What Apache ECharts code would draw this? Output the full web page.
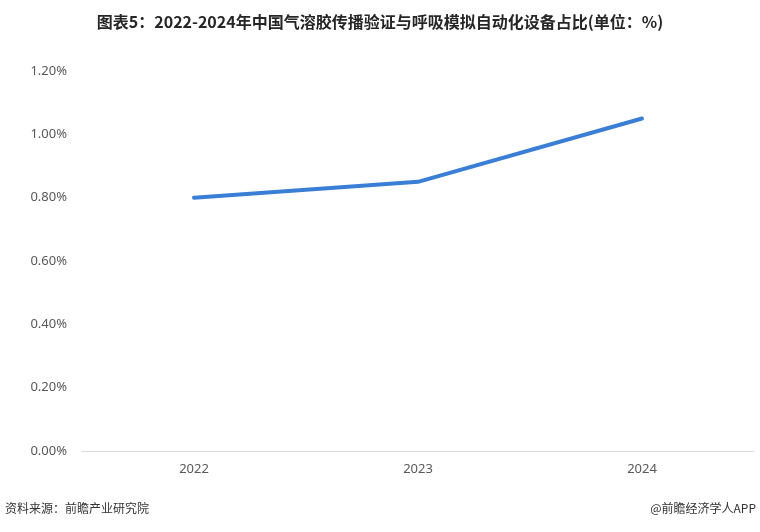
<!DOCTYPE html>
<html><head><meta charset="utf-8">
<script src="https://cdn.jsdelivr.net/npm/echarts@6/dist/echarts.min.js"></script>
<style>html,body{margin:0;padding:0;background:#fff}#c{width:760px;height:532px}</style>
</head><body><div id="c"></div>
<script>
const titleText = '图表5：2022-2024年中国气溶胶传播验证与呼吸模拟自动化设备占比(单位：%)';
const sourceText = '资料来源：前瞻产业研究院';
const brandText = '@前瞻经济学人APP';
const categories = ['2022', '2023', '2024'];
const shareValues = [0.80, 0.85, 1.05];
const yTicks = [0, 0.2, 0.4, 0.6, 0.8, 1.0, 1.2];

const chart = echarts.init(document.getElementById('c'));
chart.setOption({
  backgroundColor: '#fff',
  animation: false,
  title: {
    text: titleText,
    left: 'center', top: 9,
    textStyle: {fontFamily: '"Noto Sans CJK SC", sans-serif', fontSize: 16, fontWeight: 'bold', color: '#262626'}
  },
  graphic: [
    {type: 'text', left: 5, top: 502, style: {text: sourceText, font: '12px "Noto Sans CJK SC", sans-serif', fill: '#333'}},
    {type: 'text', right: 4, top: 502, style: {text: brandText, font: '12px "Noto Sans CJK SC", sans-serif', fill: '#333'}}
  ],
  grid: {left: 82, right: 6, top: 71, bottom: 81},
  xAxis: {
    type: 'category', data: categories, boundaryGap: true,
    axisLine: {lineStyle: {color: '#d9d9d9', width: 1}},
    axisTick: {show: false},
    axisLabel: {color: '#595959', fontSize: 13, margin: 12, fontFamily: '"Noto Sans", sans-serif'}
  },
  yAxis: {
    type: 'value', min: yTicks[0], max: yTicks[yTicks.length - 1], interval: 0.2,
    axisLine: {show: false}, axisTick: {show: false},
    splitLine: {show: false},
    axisLabel: {color: '#595959', fontSize: 13, margin: 15, fontFamily: '"Noto Sans", sans-serif',
      formatter: v => v.toFixed(2) + '%'}
  },
  series: [{
    type: 'line', data: shareValues, symbol: 'none',
    lineStyle: {color: '#3a7fd5', width: 4, cap: 'round', join: 'round'}
  }]
});
</script></body></html>
